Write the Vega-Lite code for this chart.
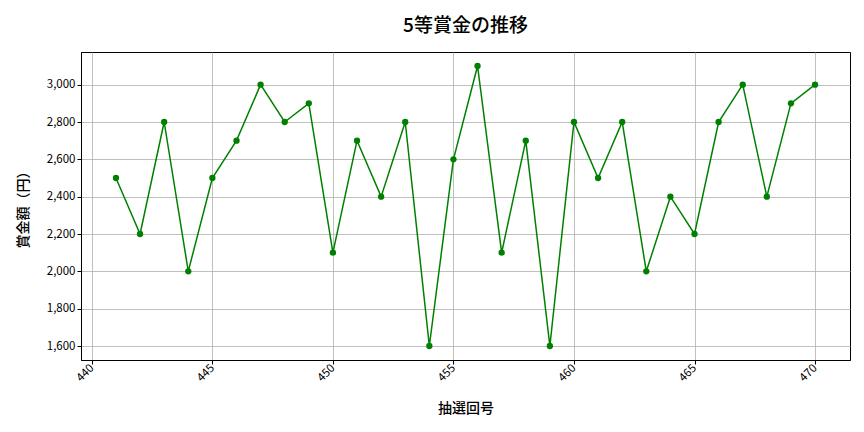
{
  "$schema": "https://vega.github.io/schema/vega-lite/v6.json",
  "autosize": {"type": "none"},
  "padding": {"left": 81, "top": 52, "right": 14, "bottom": 72},
  "width": 769,
  "height": 308,
  "background": "white",
  "title": {
    "text": "5等賞金の推移",
    "fontSize": 19,
    "font": "Noto Sans CJK JP",
    "fontWeight": 500,
    "color": "black",
    "offset": 16
  },
  "data": {
    "values": [
      {"round": 441, "prize": 2500},
      {"round": 442, "prize": 2200},
      {"round": 443, "prize": 2800},
      {"round": 444, "prize": 2000},
      {"round": 445, "prize": 2500},
      {"round": 446, "prize": 2700},
      {"round": 447, "prize": 3000},
      {"round": 448, "prize": 2800},
      {"round": 449, "prize": 2900},
      {"round": 450, "prize": 2100},
      {"round": 451, "prize": 2700},
      {"round": 452, "prize": 2400},
      {"round": 453, "prize": 2800},
      {"round": 454, "prize": 1600},
      {"round": 455, "prize": 2600},
      {"round": 456, "prize": 3100},
      {"round": 457, "prize": 2100},
      {"round": 458, "prize": 2700},
      {"round": 459, "prize": 1600},
      {"round": 460, "prize": 2800},
      {"round": 461, "prize": 2500},
      {"round": 462, "prize": 2800},
      {"round": 463, "prize": 2000},
      {"round": 464, "prize": 2400},
      {"round": 465, "prize": 2200},
      {"round": 466, "prize": 2800},
      {"round": 467, "prize": 3000},
      {"round": 468, "prize": 2400},
      {"round": 469, "prize": 2900},
      {"round": 470, "prize": 3000}
    ]
  },
  "mark": {
    "type": "line",
    "color": "green",
    "strokeWidth": 1.5,
    "point": {"filled": true, "color": "green", "size": 40, "opacity": 1}
  },
  "encoding": {
    "x": {
      "field": "round",
      "type": "quantitative",
      "title": "抽選回号",
      "scale": {"domain": [439.55, 471.45], "nice": false, "zero": false},
      "axis": {
        "values": [440, 445, 450, 455, 460, 465, 470],
        "labelAngle": -45,
        "labelAlign": "right",
        "labelBaseline": "middle",
        "labelOffset": 0,
        "titlePadding": 18
      }
    },
    "y": {
      "field": "prize",
      "type": "quantitative",
      "title": "賞金額（円）",
      "scale": {"domain": [1525, 3175], "nice": false, "zero": false},
      "axis": {
        "values": [1600, 1800, 2000, 2200, 2400, 2600, 2800, 3000],
        "format": ",d",
        "titlePadding": 16
      }
    }
  },
  "config": {
    "font": "Noto Sans CJK JP",
    "view": {"stroke": "black", "strokeWidth": 1},
    "axis": {
      "labelFont": "Noto Sans CJK JP",
      "titleFont": "Noto Sans CJK JP",
      "labelFontSize": 11.5,
      "titleFontSize": 14,
      "titleFontWeight": 500,
      "labelColor": "black",
      "titleColor": "black",
      "domainColor": "black",
      "tickColor": "black",
      "tickSize": 4,
      "grid": true,
      "gridColor": "#b0b0b0",
      "gridWidth": 0.8
    }
  }
}
